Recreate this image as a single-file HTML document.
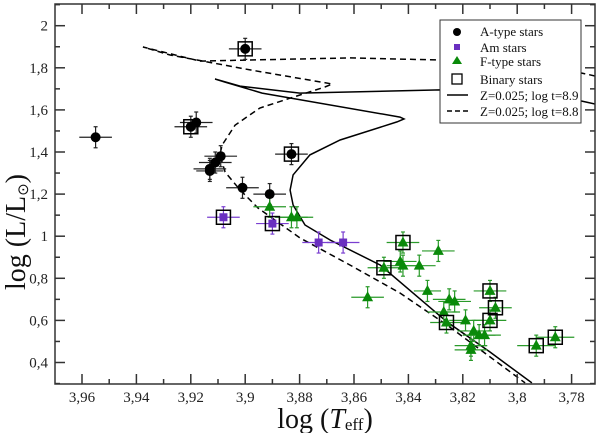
<!DOCTYPE html>
<html><head><meta charset="utf-8"><style>
body{margin:0;background:#fff}
svg{display:block;font-family:"Liberation Serif",serif}
</style></head><body>
<svg id="c" width="600" height="433" viewBox="0 0 600 433" xmlns="http://www.w3.org/2000/svg"></svg>
<script>
const aT=[3.955,3.900,3.920,3.918,3.909,3.911,3.913,3.913,3.901,3.891,3.883];
const aL=[1.47,1.89,1.52,1.54,1.38,1.35,1.32,1.31,1.23,1.20,1.39];
const aXe=[0.006,0.006,0.006,0.006,0.006,0.006,0.006,0.005,0.006,0.006,0.006];
const amT=[3.908,3.890,3.873,3.864];
const amL=[1.09,1.06,0.97,0.97];
const amXe=[0.006,0.006,0.006,0.006];
const fT=[3.891,3.883,3.881,3.842,3.829,3.843,3.842,3.849,3.836,3.855,3.833,3.825,3.823,3.827,3.826,3.819,3.810,3.808,3.810,3.816,3.814,3.812,3.817,3.817,3.793,3.786];
const fL=[1.14,1.09,1.09,0.97,0.93,0.88,0.86,0.85,0.86,0.71,0.74,0.70,0.69,0.64,0.59,0.60,0.74,0.66,0.60,0.55,0.53,0.53,0.48,0.46,0.48,0.52];
const fXe=[0.006,0.006,0.006,0.006,0.006,0.006,0.006,0.006,0.006,0.006,0.005,0.006,0.006,0.006,0.006,0.006,0.006,0.006,0.006,0.006,0.006,0.006,0.006,0.006,0.007,0.007];
const binT=[3.900,3.920,3.883,3.908,3.890,3.842,3.849,3.826,3.810,3.808,3.810,3.793,3.786];
const binL=[1.89,1.52,1.39,1.09,1.06,0.97,0.85,0.59,0.74,0.66,0.60,0.48,0.52];
const iso89T=[3.7714,3.7762,3.8063,3.8284,3.8799,3.9019,3.9111,3.9074,3.8938,3.8431,3.8416,3.8442,3.8651,3.8762,3.8824,3.8835,3.8824,3.878,3.8688,3.8504,3.8258,3.81,3.7946];
const iso89L=[1.628,1.642,1.685,1.695,1.68,1.713,1.747,1.732,1.68,1.566,1.557,1.543,1.457,1.386,1.291,1.219,1.148,1.053,0.982,0.863,0.593,0.45,0.303];
const iso88T=[3.7714,3.7762,3.8063,3.8284,3.8615,3.8982,3.9166,3.9376,3.9276,3.8982,3.868,3.8707,3.8799,3.8946,3.9037,3.9085,3.9093,3.9074,3.9019,3.8953,3.8799,3.8615,3.8431,3.8258,3.7971];
const iso88L=[1.761,1.775,1.818,1.837,1.847,1.837,1.832,1.899,1.861,1.79,1.723,1.709,1.671,1.609,1.528,1.433,1.386,1.305,1.22,1.134,0.992,0.863,0.73,0.578,0.303];
const xTicks=[3.96,3.94,3.92,3.9,3.88,3.86,3.84,3.82,3.8,3.78];
const xTickLabels=["3,96","3,94","3,92","3,9","3,88","3,86","3,84","3,82","3,8","3,78"];
const yTicks=[2,1.8,1.6,1.4,1.2,1,0.8,0.6,0.4];
const yTickLabels=["2","1,8","1,6","1,4","1,2","1","0,8","0,6","0,4"];
const YERR=0.05;
const L=55,R=595,T=4,B=384;
const X=v=>82+(3.96-v)/0.02*54.4;
const Y=v=>25.7+(2-v)/0.2*42.1;
const svg=document.getElementById('c');
const NS='http://www.w3.org/2000/svg';
function mk(tag,attrs,parent){const e=document.createElementNS(NS,tag);for(const k in attrs)e.setAttribute(k,attrs[k]);(parent||svg).appendChild(e);return e;}
const clip=mk('clipPath',{id:'pc'});mk('rect',{x:L,y:T,width:R-L,height:B-T},clip);
const plot=mk('g',{'clip-path':'url(#pc)'});


function path(ts,ls,dash,name){const d=ts.map((t,i)=>(i?'L':'M')+X(t).toFixed(1)+','+Y(ls[i]).toFixed(1)).join('');const p=mk('path',{d:d,fill:'none',stroke:'#000','stroke-width':1.5,'stroke-dasharray':dash},plot);

}
path(iso89T,iso89L,'none','isochrone-logt-8.9');
path(iso88T,iso88L,'6,4','isochrone-logt-8.8');
function ebar(t,l,xe,col){const g=mk('g',{stroke:col,'stroke-width':1.2},plot);


mk('line',{x1:X(t+xe),x2:X(t-xe),y1:Y(l),y2:Y(l)},g);mk('line',{x1:X(t),x2:X(t),y1:Y(l+YERR),y2:Y(l-YERR)},g);
mk('line',{x1:X(t)-2,x2:X(t)+2,y1:Y(l+YERR),y2:Y(l+YERR)},g);mk('line',{x1:X(t)-2,x2:X(t)+2,y1:Y(l-YERR),y2:Y(l-YERR)},g);}
aT.forEach((t,i)=>ebar(t,aL[i],aXe[i],'#222'));
amT.forEach((t,i)=>ebar(t,amL[i],amXe[i],'#7a3fd0'));
fT.forEach((t,i)=>ebar(t,fL[i],fXe[i],'#2a9a2a'));
aT.forEach((t,i)=>{const c=mk('circle',{cx:X(t),cy:Y(aL[i]),r:5,fill:'#000'},plot);

});
amT.forEach((t,i)=>{const s=mk('rect',{x:X(t)-4,y:Y(amL[i])-4,width:8,height:8,fill:'#6a2fc0'},plot);

});
fT.forEach((t,i)=>{const x=X(t),y=Y(fL[i]);const p=mk('polygon',{points:`${x},${y-6} ${x-5.5},${y+4} ${x+5.5},${y+4}`,fill:'#0a8a0a'},plot);

});
binT.forEach((t,i)=>{const s=mk('rect',{x:X(t)-7,y:Y(binL[i])-7,width:14,height:14,fill:'none',stroke:'#000','stroke-width':1.5},plot);

});
const ax=mk('g',{stroke:'#333','stroke-width':1.5});


mk('rect',{x:L,y:T,width:R-L,height:B-T,fill:'none'},ax);
for(let v=3.77;v<=3.97001;v+=0.01){const x=X(v);if(x<L||x>R)continue;const maj=Math.abs(Math.round(v*50)-v*50)<0.01;const len=maj?10:5;
mk('line',{x1:x,x2:x,y1:B,y2:B-len},ax);mk('line',{x1:x,x2:x,y1:T,y2:T+len},ax);}
for(let v=0.3;v<=2.1001;v+=0.1){const y=Y(v);if(y<T||y>B)continue;const maj=Math.abs(Math.round(v*5)-v*5)<0.01;const len=maj?10:5;
mk('line',{x1:L,x2:L+len,y1:y,y2:y},ax);mk('line',{x1:R,x2:R-len,y1:y,y2:y},ax);}
xTicks.forEach((v,i)=>{const t=mk('text',{x:X(v),y:B+18,'text-anchor':'middle','font-size':15,fill:'#222'});t.textContent=xTickLabels[i];

});
yTicks.forEach((v,i)=>{const t=mk('text',{x:L-7,y:Y(v)+5,'text-anchor':'end','font-size':15,fill:'#222'});t.textContent=yTickLabels[i];

});
</script>
<svg width="600" height="433" style="position:absolute;left:0;top:0" xmlns="http://www.w3.org/2000/svg">
<text x="325" y="428" text-anchor="middle" font-family="Liberation Serif,serif" font-size="28" fill="#111">log (<tspan font-style="italic">T</tspan><tspan font-size="17" dy="2">eff</tspan><tspan dy="-2">)</tspan></text>
<text transform="translate(25,232) rotate(-90)" text-anchor="middle" font-family="Liberation Serif,serif" font-size="28" fill="#111">log (L/L<tspan font-size="15" dy="3">⊙</tspan><tspan dy="-3">)</tspan></text>
<g font-family="Liberation Serif,serif" font-size="13" fill="#111">
<rect x="440" y="20" width="141" height="103" fill="#fff" stroke="#333" stroke-width="1"/>
<circle cx="457" cy="32" r="4" fill="#000"/><text x="480" y="36">A-type stars</text>
<rect x="454" y="44" width="6" height="6" fill="#6a2fc0"/><text x="480" y="52">Am stars</text>
<polygon points="457,56 452,64 462,64" fill="#0a8a0a"/><text x="480" y="66">F-type stars</text>
<rect x="452" y="74" width="10" height="10" fill="none" stroke="#000" stroke-width="1.3"/><text x="480" y="84">Binary stars</text>
<line x1="447" x2="468" y1="95" y2="95" stroke="#000" stroke-width="1.5"/><text x="480" y="100">Z=0.025; log t=8.9</text>
<line x1="447" x2="468" y1="111" y2="111" stroke="#000" stroke-width="1.5" stroke-dasharray="5,3"/><text x="480" y="116">Z=0.025; log t=8.8</text>
</g>
</svg>
</body></html>
